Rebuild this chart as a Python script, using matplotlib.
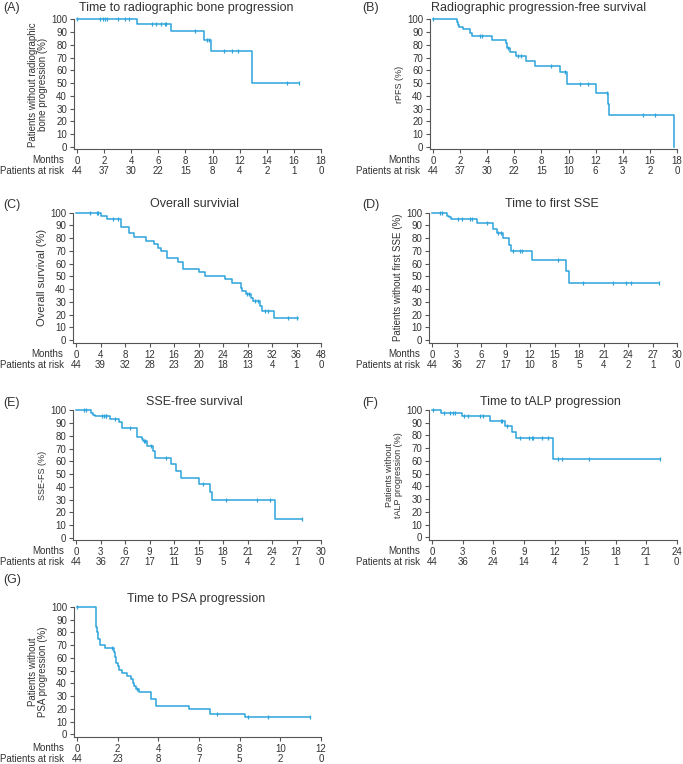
import numpy as np
import matplotlib
matplotlib.use("Agg")
import matplotlib.pyplot as plt
import matplotlib.transforms as mtransforms

plt.rcParams['font.family'] = ['Liberation Sans', 'DejaVu Sans']

W, H = 683, 764
LINE = '#2ea3dc'
TXT = '#333333'

# ---- data ----
# (A) time to radiographic bone progression
a_t = [4.4, 6.9, 9.36, 9.9, 12.9]
a_s = [96.5, 90.7, 83.6, 75.0, 50.0]
a_c = [0, 1.7, 1.94, 2.1, 2.2, 3.0, 3.55, 3.8, 5.5, 5.8, 6.2, 6.5, 6.6, 8.7,
       9.6, 9.75, 10.86, 11.4, 11.9, 15.5, 16.4]
a_end = 16.4
a_ticks = [0, 2, 4, 6, 8, 10, 12, 14, 16, 18]
a_risk = [44, 37, 30, 22, 15, 8, 4, 2, 1, 0]

# (B) rPFS
b_t = [1.75, 1.87, 1.95, 2.2, 2.76, 2.9, 4.33, 5.35, 5.45, 5.7, 6.1, 6.87,
       7.5, 9.35, 9.9, 12.0, 12.9, 12.98, 17.8]
b_s = [97.7, 95.4, 94.2, 92.0, 89.5, 86.6, 83.8, 81.2, 77.4, 74.6, 71.2,
       67.0, 63.0, 58.8, 49.0, 41.8, 33.5, 24.9, 0]
b_c = [0, 3.5, 3.65, 5.52, 6.3, 6.5, 8.7, 9.75, 10.85, 11.4, 12.8, 15.5, 16.4]
b_end = 17.8
b_ticks = [0, 2, 4, 6, 8, 10, 12, 14, 16, 18]
b_risk = [44, 37, 30, 22, 15, 10, 6, 3, 2, 0]

# (C) overall survival
c_t = [4.05, 5.0, 7.3, 8.6, 9.55, 11.4, 12.8, 13.35, 13.95, 14.8, 16.65,
       17.5, 20.15, 21.0, 24.4, 25.5, 26.9, 27.1, 27.7, 28.6, 28.9, 30.0,
       30.3, 32.4]
c_s = [97.7, 95.4, 88.6, 84.0, 81.2, 78.0, 75.1, 72.4, 69.9, 64.1, 61.6,
       56.0, 53.4, 50.0, 47.6, 44.5, 41.2, 38.6, 36.3, 33.0, 30.4, 26.8,
       22.5, 17.0]
c_c = [2.3, 3.35, 3.6, 6.0, 6.9, 27.9, 28.3, 29.2, 29.7, 30.8, 31.3, 34.6, 36.15]
c_end = 36.2
c_ticks = [0, 4, 8, 12, 16, 20, 24, 28, 32, 36, 40]
c_labels = ['0', '4', '8', '12', '16', '20', '24', '28', '32', '36', '48']
c_risk = [44, 39, 32, 28, 23, 20, 18, 13, 4, 1, 0]

# (D) time to first SSE
d_t = [1.75, 2.1, 2.3, 5.5, 7.4, 7.9, 8.7, 9.45, 9.6, 12.25, 16.45, 16.7]
d_s = [97.7, 96.5, 95.0, 91.9, 87.4, 84.0, 79.8, 75.0, 69.9, 62.8, 54.2, 44.8]
d_c = [0.95, 1.15, 3.2, 3.6, 4.65, 4.85, 6.65, 8.1, 8.45, 9.85, 10.75, 10.95,
       15.4, 18.5, 22.1, 23.8, 24.3, 27.75]
d_end = 27.75
d_ticks = [0, 3, 6, 9, 12, 15, 18, 21, 24, 27, 30]
d_risk = [44, 36, 27, 17, 10, 8, 5, 4, 2, 1, 0]

# (E) SSE-free survival
e_t = [1.75, 2.1, 2.25, 4.1, 5.25, 5.6, 7.4, 7.5, 8.0, 8.15, 8.65, 9.4, 9.7,
       11.6, 12.2, 12.8, 15.0, 16.4, 16.65, 24.4]
e_s = [97.7, 96.5, 95.4, 93.0, 90.8, 86.4, 82.0, 79.3, 77.5, 76.0, 72.2,
       68.0, 62.8, 58.1, 52.4, 47.1, 42.1, 35.9, 29.8, 14.9]
e_c = [0.98, 1.2, 3.15, 3.45, 3.6, 3.7, 4.8, 6.55, 8.25, 8.45, 9.15, 10.95,
       15.5, 18.4, 22.1, 23.8, 27.7]
e_end = 27.7
e_ticks = [0, 3, 6, 9, 12, 15, 18, 21, 24, 27, 30]
e_risk = [44, 36, 27, 17, 11, 9, 5, 4, 2, 1, 0]

# (F) time to tALP progression
f_t = [0.9, 2.95, 5.7, 7.1, 7.8, 8.2, 11.9]
f_s = [97.6, 95.5, 91.3, 87.1, 83.0, 77.7, 61.9]
f_c = [0.05, 1.15, 1.75, 2.0, 2.25, 3.1, 3.55, 4.7, 4.95, 6.7, 6.85, 7.35,
       8.6, 9.45, 9.8, 9.9, 10.8, 11.4, 12.35, 12.75, 15.4, 22.4]
f_end = 22.4
f_ticks = [0, 3, 6, 9, 12, 15, 18, 21, 24]
f_risk = [44, 36, 24, 14, 4, 2, 1, 1, 0]

# (G) time to PSA progression
g_t = [0.92, 0.98, 1.03, 1.15, 1.4, 1.82, 1.87, 1.9, 2.0, 2.08, 2.23, 2.45,
       2.65, 2.73, 2.8, 2.88, 3.03, 3.63, 3.9, 5.53, 6.55, 8.27]
g_s = [84.6, 80.4, 74.9, 70.4, 67.8, 65.0, 60.5, 56.0, 53.4, 50.8, 48.4,
       45.8, 43.2, 40.6, 38.0, 35.9, 33.2, 27.5, 22.2, 19.6, 16.2, 13.4]
g_c = [0, 1.73, 2.95, 6.87, 8.43, 9.41, 11.46]
g_end = 11.46
g_ticks = [0, 2, 4, 6, 8, 10, 12]
g_risk = [44, 23, 8, 7, 5, 2, 0]


fig = plt.figure(figsize=(W / 100, H / 100), dpi=100)


def panel(left, top, bottom, right, letter, letter_xy, title, title_xy,
          ylabel, ylsize, t, s, c, end, ticks, risk, labels=None):
    ax = fig.add_axes([left / W, 1 - bottom / H, (right - left) / W,
                       (bottom - top) / H])
    xmax = ticks[-1]
    ax.set_xlim(-xmax * 3 / (right - left - 3), xmax)
    ax.set_ylim(-2, 100)
    x = [0] + t + [end]
    y = [100] + s + [s[-1]]
    ax.step(x, y, where='post', color=LINE, lw=1.1, clip_on=False)
    # censor marks sit on the step curve
    cy = [100 if ci < t[0] else s[np.searchsorted(t, ci, side='right') - 1]
          for ci in c]
    ax.plot(c, cy, ls='none', marker='|', ms=3.5, mew=0.9, color=LINE,
            clip_on=False)
    for sp in ['top', 'right']:
        ax.spines[sp].set_visible(False)
    for sp in ['left', 'bottom']:
        ax.spines[sp].set_color('#555555')
        ax.spines[sp].set_linewidth(0.8)
    ax.set_yticks(range(0, 101, 10))
    ax.set_xticks(ticks)
    ax.set_xticklabels(labels if labels else [str(v) for v in ticks])
    ax.tick_params(direction='out', length=3, width=0.8, color='#555555',
                   labelsize=7, labelcolor=TXT, pad=2)
    ax.set_ylabel(ylabel, fontsize=ylsize, color=TXT, labelpad=2,
                  linespacing=1.05)
    # row labels and patients at risk
    fig.text((left - 9.5) / W, 1 - (bottom + 11) / H, 'Months', ha='right',
             va='center', fontsize=7, color=TXT)
    fig.text((left - 9.5) / W, 1 - (bottom + 22) / H, 'Patients at risk',
             ha='right', va='center', fontsize=7, color=TXT)
    tr = mtransforms.blended_transform_factory(ax.transData, fig.transFigure)
    for xv, r in zip(ticks, risk):
        ax.text(xv, 1 - (bottom + 22) / H, str(r), transform=tr, ha='center',
                va='center', fontsize=7, color=TXT)
    fig.text(letter_xy[0] / W, 1 - letter_xy[1] / H, letter, ha='left',
             va='center', fontsize=9, color=TXT)
    fig.text(title_xy[0] / W, 1 - title_xy[1] / H, title, ha='center',
             va='center', fontsize=9, color=TXT)
    return ax


panel(74, 19.3, 149.3, 321, '(A)', (3, 8), 'Time to radiographic bone progression',
      (186.5, 8), 'Patients without radiographic\nbone progression (%)', 7,
      a_t, a_s, a_c, a_end, a_ticks, a_risk)
panel(430, 19.3, 149.3, 677, '(B)', (362, 8), 'Radiographic progression-free survival',
      (538.5, 8), 'rPFS (%)', 6.5, b_t, b_s, b_c, b_end, b_ticks, b_risk)
panel(73, 212.7, 342.7, 321, '(C)', (3, 205), 'Overall survivial',
      (195, 204), 'Overall survival (%)', 8, c_t, c_s, c_c, c_end, c_ticks,
      c_risk, c_labels)
panel(429.3, 212.7, 342.7, 677, '(D)', (362, 205), 'Time to first SSE',
      (552, 204), 'Patients without first SSE (%)', 7, d_t, d_s, d_c, d_end,
      d_ticks, d_risk)
panel(73.3, 410.3, 540.3, 321, '(E)', (3, 403), 'SSE-free survival',
      (194, 402), 'SSE-FS (%)', 6.5, e_t, e_s, e_c, e_end, e_ticks, e_risk)
panel(429.3, 410, 540, 676.7, '(F)', (362, 403), 'Time to tALP progression',
      (550.5, 402), 'Patients without\ntALP progression (%)', 6.5, f_t, f_s,
      f_c, f_end, f_ticks, f_risk)
panel(74, 607, 737, 321, '(G)', (3, 580), 'Time to PSA progression',
      (196.5, 599), 'Patients without\nPSA progression (%)', 7, g_t, g_s, g_c,
      g_end, g_ticks, g_risk)

fig.savefig('out.png', dpi=100)
